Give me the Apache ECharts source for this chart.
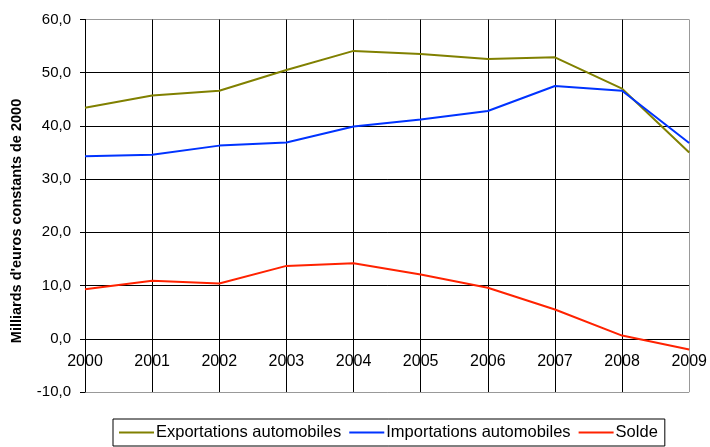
<!DOCTYPE html>
<html>
<head>
<meta charset="utf-8">
<script src="https://cdn.jsdelivr.net/npm/echarts@6/dist/echarts.min.js"></script>
<style>html,body{margin:0;padding:0;background:#fff}#c{width:710px;height:447px}</style>
</head>
<body>
<div id="c"></div>
<script>
const years = ['2000','2001','2002','2003','2004','2005','2006','2007','2008','2009'];
const exportations = [43.4, 45.7, 46.6, 50.5, 54.1, 53.5, 52.6, 52.9, 47.0, 35.0];
const importations = [34.3, 34.6, 36.3, 36.9, 39.9, 41.2, 42.8, 47.5, 46.6, 36.8];
const solde = [9.3, 10.9, 10.4, 13.7, 14.2, 12.1, 9.6, 5.5, 0.6, -2.0];
const seriesNames = ['Exportations automobiles', 'Importations automobiles', 'Solde'];
const yAxisTitle = "Milliards d'euros constants de 2000";

const FONT = 'Liberation Sans, Arial, sans-serif';
const chart = echarts.init(document.getElementById('c'), null, {renderer: 'canvas'});
const colors = ['#808000', '#0033FF', '#FF2200'];
const gridTop = 19.5, gridBottom = 55, H = 447;
const plotH = H - gridTop - gridBottom;
const zeroOffset = plotH * 10 / 70; // distance from -10 to 0
chart.setOption({
  animation: false,
  color: colors,
  grid: {left: 85, right: 16, top: gridTop, bottom: gridBottom, containLabel: false},
  legend: {
    top: 419, left: 113,
    data: seriesNames,
    icon: 'rect', itemWidth: 35, itemHeight: 2, itemGap: 8,
    borderColor: '#000', borderWidth: 1, borderRadius: 0,
    padding: [5, 7, 5, 6],
    textStyle: {fontFamily: FONT, fontSize: 16.5, color: '#000', padding: [0, 0, 0, -3]}
  },
  graphic: [{
    type: 'text', x: 17, y: 221, rotation: Math.PI / 2,
    style: {text: yAxisTitle, font: 'bold 14.5px ' + FONT, fill: '#000', align: 'center', verticalAlign: 'middle'}
  }],
  xAxis: {
    type: 'category', data: years, boundaryGap: false,
    offset: -zeroOffset,
    axisLine: {onZero: false, lineStyle: {color: '#000', width: 1}},
    axisTick: {show: false},
    axisLabel: {fontFamily: FONT, fontSize: 16, color: '#000', margin: 15, interval: 0},
    splitLine: {show: true, interval: 0, lineStyle: {color: ['#000','#000','#000','#000','#000','#000','#000','#000','#000','#999'], width: 1}}
  },
  yAxis: {
    type: 'value', min: -10, max: 60, interval: 10,
    axisLine: {show: true, lineStyle: {color: '#000', width: 1}},
    axisTick: {show: true, length: 5, lineStyle: {color: '#000'}},
    axisLabel: {fontFamily: FONT, fontSize: 15, color: '#000', margin: 14,
      formatter: v => v.toFixed(1).replace('.', ',')},
    splitLine: {show: true, lineStyle: {color: ['#999','#000','#000','#000','#000','#000','#000','#999'], width: 1}}
  },
  series: [
    {name: seriesNames[0], type: 'line', data: exportations, symbol: 'none', lineStyle: {width: 2}},
    {name: seriesNames[1], type: 'line', data: importations, symbol: 'none', lineStyle: {width: 2}},
    {name: seriesNames[2], type: 'line', data: solde, symbol: 'none', lineStyle: {width: 2}}
  ]
});
</script>
</body>
</html>
